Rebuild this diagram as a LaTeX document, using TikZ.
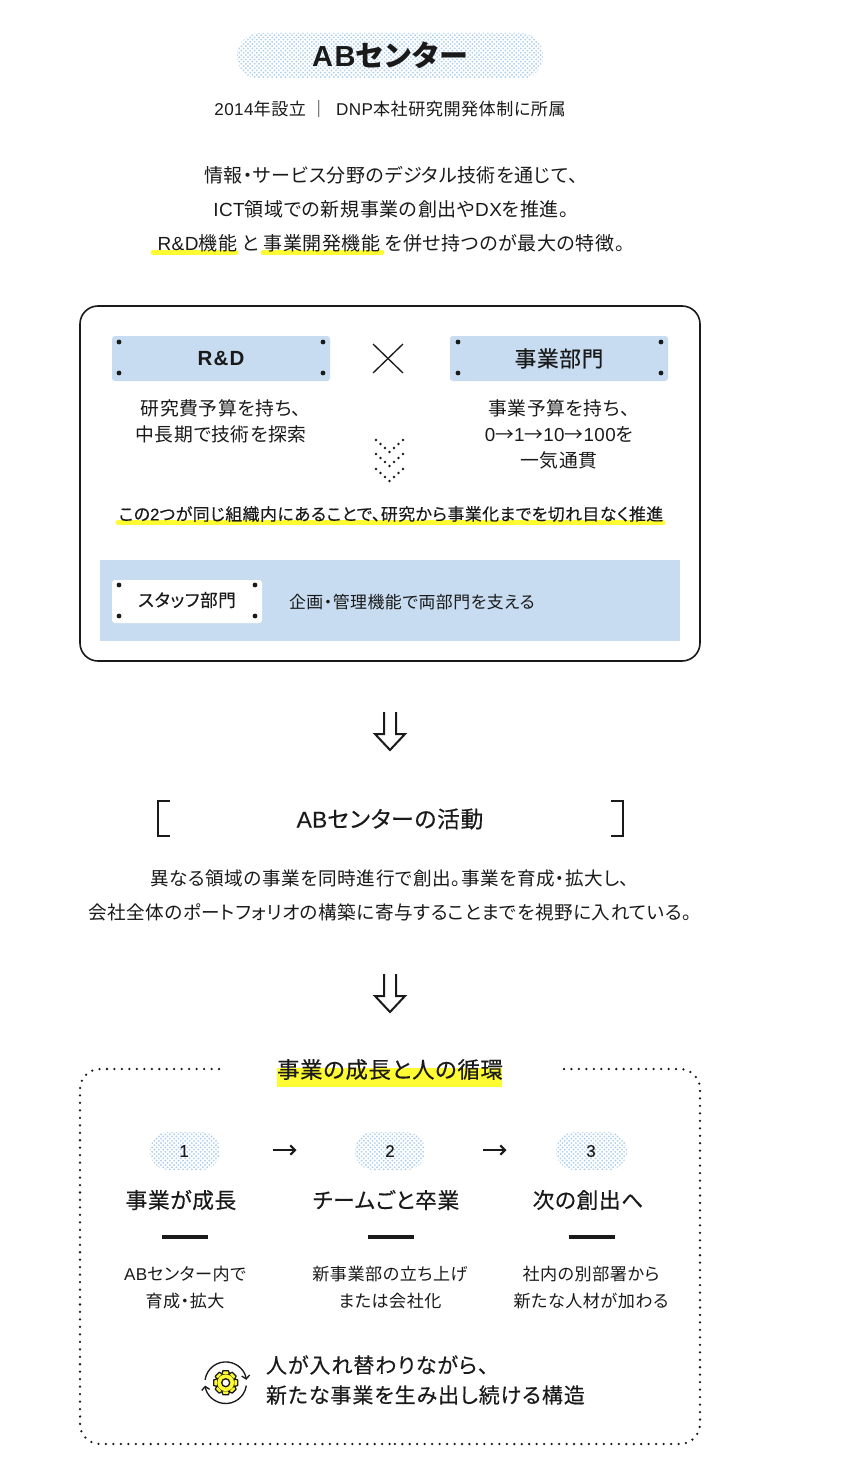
\documentclass[tikz,border=0pt]{standalone}
\usepackage{fontspec}
\usetikzlibrary{arrows.meta}
\setmainfont{Noto Sans CJK JP}[RawFeature={+palt},LetterSpace=3]
\newfontfamily\medf{Noto Sans CJK JP}[RawFeature={+palt},LetterSpace=3,FakeBold=0.3]
\newfontfamily\latf{Liberation Sans}[LetterSpace=2.5]
\newfontfamily\latmed{Liberation Sans}[FakeBold=0.3,LetterSpace=1.5]
\newfontfamily\latbold{Liberation Sans Bold}[LetterSpace=6]
\newcommand{\lat}[1]{{\latf #1}}
\newcommand{\latm}[1]{{\latmed #1}}
\newcommand{\px}[1]{\fontsize{\fpeval{#1*0.75}pt}{\fpeval{#1*0.9}pt}\selectfont}
\definecolor{plate}{HTML}{C7DCF0}
\definecolor{halftone}{HTML}{B0D0EE}
\definecolor{hilite}{HTML}{FFFB33}
\definecolor{ink}{HTML}{1A1A1A}
\tikzset{
  x=0.75pt,y=-0.75pt,
  every node/.style={inner sep=0pt,outer sep=0pt,text=ink},
  body/.style={font=\px{19}},
  actbody/.style={font=\px{18.6}},
  small/.style={font=\px{18.8}},
  note/.style={font=\px{17.1}},
  strong/.style={font=\px{16.85}\medf},
  heading/.style={font=\px{21.7}\medf},
  plate box/.style={fill=plate,rounded corners=2.2pt},
  white box/.style={fill=white,rounded corners=2.2pt},
  mark line/.style={draw=hilite,line width=3.6pt,line cap=round},
  hollow/.style={draw=ink,line width=1.5pt,fill=white,line join=miter},
  stepbar/.style={draw=ink,line width=3pt},
  flow/.style={draw=ink,line width=1.8pt,-{Straight Barb[length=3.5pt,width=7pt,line width=1.6pt]}},
  rivet/.style={fill=ink},
  bracketline/.style={draw=ink,line width=1.6pt},
  dotted frame/.style={draw=ink,line width=1.9pt,line cap=round,dash pattern=on 0pt off 5.6pt,rounded corners=15pt},
  icon arrow/.style={draw=ink,line width=1pt,-{Straight Barb[length=2.6pt,width=6pt,line width=1pt]}},
  gear line/.style={draw=ink,line width=0.95pt,line join=round},
}
\newcommand{\halftone}[5]{% x1,y1,x2,y2,radius(pt)
  \pgfmathtruncatemacro{\nr}{(#4-#2)/2.2}
  \pgfmathtruncatemacro{\nc}{(#3-#1)/4.4}
  \begin{scope}
    \clip[rounded corners=#5] (#1,#2) rectangle (#3,#4);
    \foreach \r in {0,...,\nr} {
      \pgfmathsetmacro{\yy}{#2+\r*2.2}
      \pgfmathsetmacro{\xo}{#1+mod(\r,2)*2.2}
      \foreach \c in {0,...,\nc} {
        \fill[halftone] ({\xo+\c*4.4},\yy) circle (0.78pt);
      }
    }
  \end{scope}}
\newcommand{\rivets}[4]{%
  \fill[rivet] (#1,#3) circle (1.8pt) (#2,#3) circle (1.8pt) (#1,#4) circle (1.8pt) (#2,#4) circle (1.8pt);}
\newcommand{\chev}[1]{%
  \foreach \k in {0,...,6} {
    \fill[ink] ({376+\k*4.5},{#1+(3-abs(\k-3))*4}) circle (0.95pt);
  }}
\newcommand{\dblarrow}[1]{%
  \draw[hollow] (384,#1) -- (384,#1+22) -- (375,#1+22) -- (390,#1+38) -- (405,#1+22) -- (396,#1+22) -- (396,#1);}
\begin{document}
\begin{tikzpicture}
\useasboundingbox (0,0) rectangle (852,1462);
\fill[white] (0,0) rectangle (852,1462);

% title
\halftone{237}{33}{543}{79}{17pt}
\node[font=\px{29}\bfseries] (title) at (390,55) {{\latbold\px{29}AB}\addfontfeature{LetterSpace=4}センター};
\node[note] (sub) at (390,109) {\lat{2014}年設立\ ｜\ \ \lat{DNP}本社研究開発体制に所属};

% intro
\draw[mark line] (153,252.5) -- (236,252.5);
\draw[mark line] (263,252.5) -- (382,252.5);
\node[body] (intro1) at (391,175.5) {情報・サービス分野のデジタル技術を通じて、};
\node[body] (intro2) at (391,209.5) {\lat{ICT}領域での新規事業の創出や\lat{DX}を推進。};
\node[body] (intro3) at (391,243.5) {\lat{R\&D}機能 と 事業開発機能 を併せ持つのが最大の特徴。};

% main box
\draw[ink,line width=1.2pt,rounded corners=13.5pt] (80,306) rectangle (700,661);
\fill[plate box] (112,336) rectangle (330,381);
\rivets{119}{323}{342}{373}
\node[font=\latbold\px{20.5}] (rd) at (221,358.5) {R\&D};
\fill[plate box] (450,336) rectangle (668,381);
\rivets{458}{661}{342}{373}
\node[font=\px{21.7}\medf] (biz) at (559,358.5) {事業部門};
\draw[ink,line width=1pt] (373,344) -- (403,373) (403,344) -- (373,373);
\node[small] (rd1) at (221,408.5) {研究費予算を持ち、};
\node[small] (rd2) at (221,434.5) {中長期で技術を探索};
\node[small] (biz1) at (559,408.5) {事業予算を持ち、};
\node[small] (biz2) at (559,434.5) {\lat{0}→\lat{1}→\lat{10}→\lat{100}を};
\node[small] (biz3) at (559,460.5) {一気通貫};
\chev{440}\chev{454}\chev{469}
\draw[mark line] (118,522.5) -- (663,522.5);
\node[strong] (both) at (391,514) {この\latm{2}つが同じ組織内にあることで、研究から事業化までを切れ目なく推進};
\fill[plate] (100,560) rectangle (680,641);
\fill[white box] (112,580) rectangle (262,623);
\rivets{119}{255}{585}{616}
\node[font=\px{17.6}\medf] (staff) at (187,600) {スタッフ部門};
\node[font=\px{16.9},anchor=west] (stafftext) at (289,602) {企画・管理機能で両部門を支える};

\dblarrow{712}

% activity
\draw[bracketline] (170,801) -- (158,801) -- (158,836) -- (170,836);
\draw[bracketline] (611,801) -- (623,801) -- (623,836) -- (611,836);
\node[font=\px{22.8}\medf] (act) at (390,819) {\latm{AB}センターの活動};
\node[actbody] (act1) at (390,878.5) {異なる領域の事業を同時進行で創出。事業を育成・拡大し、};
\node[actbody] (act2) at (390,912.5) {会社全体のポートフォリオの構築に寄与することまでを視野に入れている。};

\dblarrow{974}

% cycle
\draw[dotted frame] (219,1069) -- (80,1069) -- (80,1444) -- (390,1444);
\draw[dotted frame] (564,1069) -- (700,1069) -- (700,1444) -- (390,1444);
\fill[hilite] (277,1068) rectangle (502,1087);
\node[font=\px{22.4}\medf] (cyc) at (390,1069.5) {事業の成長と人の循環};

\halftone{150}{1132}{220}{1170}{14pt}
\halftone{355}{1132}{425}{1170}{14pt}
\halftone{556}{1132}{627}{1170}{14pt}
\node[strong] (n1) at (184,1151) {\latm{1}};
\node[strong] (n2) at (390,1151) {\latm{2}};
\node[strong] (n3) at (591,1151) {\latm{3}};
\coordinate (a1s) at (273,1150); \coordinate (a1e) at (296.5,1150);
\coordinate (a2s) at (483,1150); \coordinate (a2e) at (506.5,1150);
\draw[flow] (a1s) -- (a1e);
\draw[flow] (a2s) -- (a2e);
\node[heading] (h1) at (181,1200) {事業が成長};
\node[heading] (h2) at (386,1200) {チームごと卒業};
\node[heading] (h3) at (588,1200) {次の創出へ};
\draw[stepbar] (162,1237) -- (208,1237);
\draw[stepbar] (368,1237) -- (414,1237);
\draw[stepbar] (569,1237) -- (615,1237);
\node[note] (t11) at (185,1274) {\lat{AB}センター内で};
\node[note] (t12) at (185,1301) {育成・拡大};
\node[note] (t21) at (390,1274) {新事業部の立ち上げ};
\node[note] (t22) at (390,1301) {または会社化};
\node[note] (t31) at (591,1274) {社内の別部署から};
\node[note] (t32) at (591,1301) {新たな人材が加わる};

% icon
\coordinate (ic) at (225.7,1382.7);
\begin{scope}[shift={(ic)},x=1pt,y=1pt]
  \draw[icon arrow] (172:15.6) arc[start angle=172,end angle=8,radius=15.6];
  \draw[icon arrow] (-8:15.6) arc[start angle=-8,end angle=-172,radius=15.6];
  \filldraw[fill=hilite,gear line] (0,0) circle (6.8);
  \foreach \t in {0,45,...,315} {
    \filldraw[fill=hilite,gear line,rotate=\t] (-3,6) -- (-2.1,9) -- (2.1,9) -- (3,6) -- cycle;
  }
  \fill[hilite] (0,0) circle (6.3);
  \filldraw[fill=white,draw=ink,line width=1pt] (0,0) circle (3);
\end{scope}
\node[font=\px{21}\medf,anchor=west] (c1) at (266,1365) {\addfontfeature{LetterSpace=4.5}人が入れ替わりながら、};
\node[font=\px{21}\medf,anchor=west] (c2) at (266,1395) {\addfontfeature{LetterSpace=4.5}新たな事業を生み出し続ける構造};
\end{tikzpicture}
\end{document}
